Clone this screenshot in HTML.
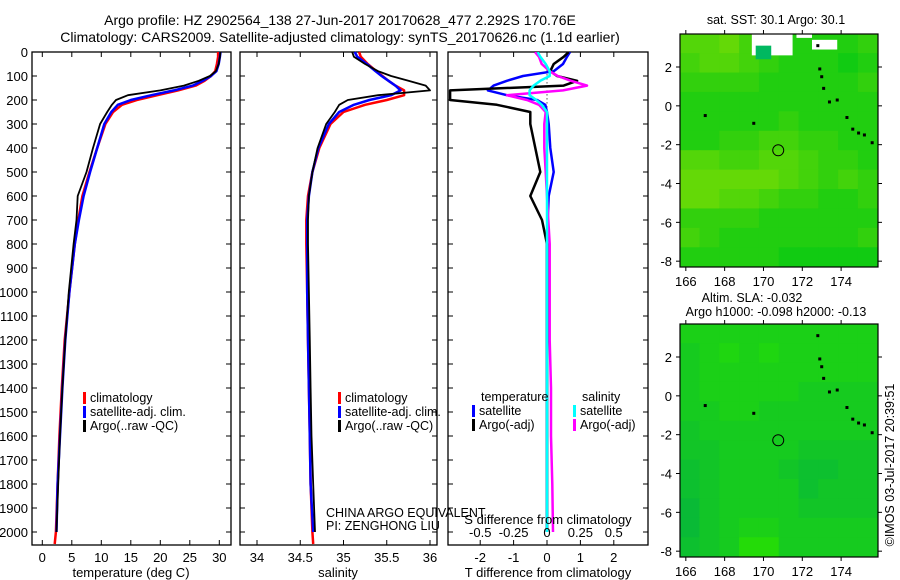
<!DOCTYPE html>
<html><head><meta charset="utf-8"><style>
html,body{margin:0;padding:0;background:#fff;}
svg{display:block;font-family:"Liberation Sans",sans-serif;}
text{fill:#000;}
</style></head><body>
<svg id="s" width="900" height="580" xmlns="http://www.w3.org/2000/svg">
<rect width="900" height="580" fill="#fff"/>
<text x="340" y="25" font-size="14" text-anchor="middle">Argo profile: HZ 2902564_138 27-Jun-2017 20170628_477 2.292S 170.76E</text>
<text x="340" y="42" font-size="14" text-anchor="middle">Climatology: CARS2009. Satellite-adjusted climatology: synTS_20170626.nc (1.1d earlier)</text>
<g id="g"></g>
</svg>
<script>
const depths=[0,20,50,80,100,120,140,160,180,200,220,250,300,400,500,600,700,800,1000,1200,1400,1600,1800,2000,2050];
const tempClim=[29.8,29.8,29.6,29.3,28.6,27.5,26,23,19.5,16,13.5,12,10.7,9.3,8,6.8,6.1,5.5,4.6,3.8,3.3,2.9,2.6,2.3,2.1];
const tempSat=[30.2,30.1,29.9,29.5,28.6,27.2,25.5,22.3,18.5,15,12.8,11.7,10.5,9.3,8.1,7,6.2,5.5,4.6,3.9,3.4,3,2.6,2.4,null];
const tempArgo=[30.2,30.1,29.9,29.4,28.4,26.5,24,20,14.5,12.5,11.8,11,9.8,8.6,7.5,6,5.8,5.3,4.5,3.9,3.4,3,2.7,2.4,null];
const salClim=[35.18,35.2,35.28,35.38,35.45,35.52,35.6,35.7,35.7,35.5,35.25,35.0,34.85,34.72,34.64,34.59,34.57,34.57,34.58,34.59,34.6,34.61,34.62,34.64,34.65];
const salSat=[35.13,35.16,35.27,35.37,35.44,35.52,35.6,35.66,35.55,35.3,35.12,34.95,34.83,34.71,34.64,34.6,34.58,34.58,34.58,34.59,34.6,34.61,34.62,34.65,null];
const salArgo=[35.1,35.12,35.25,35.4,35.55,35.75,35.95,36.0,35.4,35.05,34.95,34.9,34.8,34.7,34.64,34.6,34.59,34.59,34.6,34.61,34.62,34.63,34.65,34.67,null];
const dTsat=[0.69,0.6,0.48,0.2,-0.72,-1.2,-1.6,-1.77,-1.2,-0.3,-0.05,0,0.05,0.1,0.2,0.05,0.02,0,0,0,0,0,0,0,null];
const dTargo=[0.65,0.5,0.2,0.1,0.3,0.9,0.5,-2.9,-2.9,-2.9,-1.5,-0.5,-0.5,-0.35,-0.2,-0.5,-0.15,0,0,0,0,0,0,0,null];
const dSsat=[-0.07,-0.05,-0.01,0.02,0.02,-0.05,-0.1,-0.13,-0.13,-0.08,-0.04,0,0,0,0,0,0,0,0,0,0,0,0,0,null];
const dSargo=[-0.09,-0.06,-0.04,0.02,0.08,0.18,0.3,0.12,-0.3,-0.15,-0.06,-0.01,-0.02,-0.02,-0.01,0,0.01,0.02,0.02,0.02,0.03,0.03,0.04,0.045,null];
const depthTicks=[0,100,200,300,400,500,600,700,800,900,1000,1100,1200,1300,1400,1500,1600,1700,1800,1900,2000];
const tempTicks=[0,5,10,15,20,25,30];
const salTicks=[34,34.5,35,35.5,36];
const salTickLabels=["34","34.5","35","35.5","36"];
const dTTicks=[-2,-1,0,1,2];
const dSTicks=[-0.5,-0.25,0,0.25,0.5];
const dSTickLabels=["-0.5","-0.25","0","0.25","0.5"];
const latTicks=[2,0,-2,-4,-6,-8];
const lonTicks=[166,168,170,172,174];
const sstGrid=["5564322223","4554322212","3333222223","2222222222","2222232222","2233443322","5544554332","6666654343","6655433223","3333222222","4322222223","2222211111"];
const slaGrid=["6666666666","5676766666","5666666666","5666665555","5566555555","4555555555","4455554444","3455543344","3455553444","2455554444","2456655555","3458855555"];
const islandLon=[172.8,172.9,173.0,173.1,173.4,173.8,174.3,174.6,174.9,175.2,175.6,167.0,169.5];
const islandLat=[3.1,1.9,1.5,0.9,0.2,0.3,-0.6,-1.2,-1.4,-1.5,-1.9,-0.5,-0.9];
const argoLon=170.76, argoLat=-2.29;

const NS="http://www.w3.org/2000/svg";
const G=document.getElementById('g');
function mk(t,a,p){const e=document.createElementNS(NS,t);for(const k in a)e.setAttribute(k,a[k]);(p||G).appendChild(e);return e;}
function txt(x,y,s,sz,anc,p){const e=mk('text',{x:x,y:y,'font-size':sz||13,'text-anchor':anc||'middle'},p);e.textContent=s;return e;}
const TOP=52,BOT=545;
const yD=d=>TOP+d*0.24;

function panel(name,x0,x1,xs,ticks,labels,withDepth){
  const g=mk('g',{});
  
  
  const r=mk('rect',{x:x0,y:TOP,width:x1-x0,height:BOT-TOP,fill:'none',stroke:'#000','stroke-width':1.3},g);
  
  
  depthTicks.forEach(d=>{
    mk('line',{x1:x0,x2:x0+5,y1:yD(d),y2:yD(d),stroke:'#000'},g);
    mk('line',{x1:x1,x2:x1-5,y1:yD(d),y2:yD(d),stroke:'#000'},g);
    if(withDepth){const t=txt(x0-4,yD(d)+5,String(d),13,'end',g);
      
      }
  });
  if(ticks){ticks.forEach((v,i)=>{const x=xs(v);
    mk('line',{x1:x,x2:x,y1:BOT,y2:BOT-5,stroke:'#000'},g);
    mk('line',{x1:x,x2:x,y1:TOP,y2:TOP+5,stroke:'#000'},g);
    const t=txt(x,BOT+17,labels?labels[i]:String(v),13,'middle',g);
    
    });}
  return g;
}
function line(vals,xs,col,w,name,clip){
  let d='';let pen=false;
  vals.forEach((v,i)=>{if(v===null){pen=false;return;}d+=(pen?'L':'M')+xs(v).toFixed(1)+' '+yD(depths[i]).toFixed(1);pen=true;});
  const p=mk('path',{d:d,fill:'none',stroke:col,'stroke-width':w,'stroke-linejoin':'round'});
  if(clip)p.setAttribute('clip-path','url(#'+clip+')');
  
  
}
function legend(x,y,items){items.forEach((it,i)=>{
  const b=mk('rect',{x:x,y:y+i*14-10,width:3,height:12,fill:it[1]});
  
  
  const t=txt(x+7,y+i*14,it[0],12.5,'start');
  
  
});}

const xT=v=>42.3+v*5.9;
panel('temperature-panel',32,231,xT,tempTicks,null,true);
line(tempClim,xT,'#f00',2.5,'temp-climatology-line');
line(tempSat,xT,'#00f',2.5,'temp-satellite-line');
line(tempArgo,xT,'#000',1.8,'temp-argo-line');
legend(83,402,[['climatology','#f00'],['satellite-adj. clim.','#00f'],['Argo(..raw -QC)','#000']]);
let t=txt(131,577,'temperature (deg C)',13);

const xS=v=>257+(v-34)*86.5;
panel('salinity-panel',240,437,xS,salTicks,salTickLabels,false);
line(salClim,xS,'#f00',2.5,'sal-climatology-line');
line(salSat,xS,'#00f',2.5,'sal-satellite-line');
line(salArgo,xS,'#000',1.8,'sal-argo-line');
legend(338,402,[['climatology','#f00'],['satellite-adj. clim.','#00f'],['Argo(..raw -QC)','#000']]);
t=txt(338,577,'salinity',13);
t=txt(326,517,'CHINA ARGO EQUIVALENT',12.5,'start');
t=txt(326,530,'PI: ZENGHONG LIU',12.5,'start');

const xdT=v=>547+v*33.4, xdS=v=>547+v*133.5;
const defs=mk('defs',{});const cp=mk('clipPath',{id:'c3'},defs);mk('rect',{x:448,y:TOP,width:200,height:BOT-TOP},cp);
panel('difference-panel',448,648,xdT,dTTicks,null,false);
mk('line',{x1:547,x2:547,y1:yD(60),y2:yD(320),stroke:'#000','stroke-dasharray':'1 3'});
line(dTsat,xdT,'#00f',2.5,'dT-satellite-line','c3');
line(dTargo,xdT,'#000',2.5,'dT-argo-line','c3');
line(dSargo,xdS,'#f0f',2.5,'dS-argo-line','c3');
line(dSsat,xdS,'#0ff',2.5,'dS-satellite-line','c3');
dSTicks.forEach((v,i)=>{const tt=txt(xdS(v),537,dSTickLabels[i],13);});
t=txt(548,524,'S difference from climatology',13);
t=txt(548,577,'T difference from climatology',13);
legend(472,415,[['satellite','#00f'],['Argo(-adj)','#000']]);
legend(573,415,[['satellite','#0ff'],['Argo(-adj)','#f0f']]);
t=txt(481,401,'temperature',12.5,'start');
t=txt(582,401,'salinity',12.5,'start');

function mapPanel(name,top,grid,c0,c1,white){
  const L=680,R=878,T=top,B=top+233;
  const yl=v=>T+(3.7-v)*(B-T)/12, xl=v=>L+(v-165.7)*(R-L)/10.2;
  const g=mk('g',{});
  grid.forEach((row,ri)=>{row.split('').forEach((ch,ci)=>{
    const f=(+ch)/9;const col='rgb('+[0,1,2].map(k=>Math.round(c0[k]+(c1[k]-c0[k])*f)).join(',')+')';
    const c=mk('rect',{x:xl(165.7+ci*1.02)-0.3,y:yl(3.7-ri)-0.3,width:(R-L)/10+0.8,height:(B-T)/12+0.8,fill:col},g);
    
  });});
  if(white){[[169.4,3.7,2.1,1.1],[171.7,3.7,0.8,0.2],[172.5,3.4,1.3,0.5]].forEach(w=>{
    mk('rect',{x:xl(w[0]),y:yl(w[1]),width:w[2]*(R-L)/10.2,height:w[3]*(B-T)/12,fill:'#fff'},g);});
    mk('rect',{x:xl(169.6),y:yl(3.1),width:0.8*19.4,height:0.7*19.4,fill:'#00b860'},g);}
  islandLon.forEach((lo,i)=>{const d=mk('rect',{x:xl(lo)-1.5,y:yl(islandLat[i])-1.5,width:3,height:3,fill:'#000'},g);
    });
  const ci=mk('circle',{cx:xl(argoLon),cy:yl(argoLat),r:5.5,fill:'none',stroke:'#000','stroke-width':1},g);
  
  mk('rect',{x:L,y:T,width:R-L,height:B-T,fill:'none',stroke:'#000','stroke-width':1.2},g);
  latTicks.forEach(v=>{mk('line',{x1:L,x2:L-4,y1:yl(v),y2:yl(v),stroke:'#000'},g);mk('line',{x1:R,x2:R+4,y1:yl(v),y2:yl(v),stroke:'#000'},g);
    const tt=txt(L-8,yl(v)+5,String(v),13,'end',g);});
  lonTicks.forEach(v=>{mk('line',{x1:xl(v),x2:xl(v),y1:B,y2:B+4,stroke:'#000'},g);mk('line',{x1:xl(v),x2:xl(v),y1:T,y2:T-4,stroke:'#000'},g);
    const tt=txt(xl(v),B+19,String(v),13,'middle',g);});
}
mapPanel('sst-map',34,sstGrid,[0,200,20],[150,225,0],true);
mapPanel('sla-map',324,slaGrid,[0,175,70],[40,225,0],false);
t=txt(776,24,'sat. SST: 30.1 Argo: 30.1',12.5);
t=txt(752,302,'Altim. SLA: -0.032',12.5);
t=txt(776,316,'Argo h1000: -0.098 h2000: -0.13',12.5);
t=txt(0,0,'©IMOS 03-Jul-2017 20:39:51',12.5,'middle');t.setAttribute('transform','translate(894,465) rotate(-90)');

</script>
</body></html>
